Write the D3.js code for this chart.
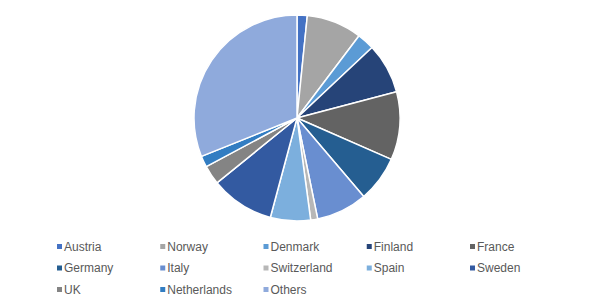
<!DOCTYPE html>
<html>
<head>
<meta charset="utf-8">
<script src="https://cdn.jsdelivr.net/npm/d3@7"></script>
<style>
  html, body { margin: 0; padding: 0; background: #fff; }
  svg { display: block; font-family: "Liberation Sans", Arial, sans-serif; }
</style>
</head>
<body>
<svg id="chart" width="594" height="307"></svg>
<script>
// Share by country (%), clockwise from 12 o'clock
const countries = ['Austria', 'Norway', 'Denmark', 'Finland', 'France', 'Germany', 'Italy',
  'Switzerland', 'Spain', 'Sweden', 'UK', 'Netherlands', 'Others'];
const shares = [1.6, 8.7, 2.7, 7.9, 10.7, 7.2, 8.0, 1.1, 6.3, 10.0, 3.0, 1.75, 31.1];
const colors = ['#4472C4', '#A5A5A5', '#5B9BD5', '#264478', '#636363', '#255E91', '#698ED0',
  '#B7B7B7', '#7CAFDD', '#335AA1', '#848484', '#327DC2', '#8FAADC'];

const data = countries.map((name, i) => ({ name, value: shares[i], color: colors[i] }));

const svg = d3.select('#chart');
const cx = 297, cy = 118, radius = 103;

const pie = d3.pie().value(d => d.value).sort(null);
const arc = d3.arc().innerRadius(0).outerRadius(radius);

svg.append('g')
  .attr('transform', `translate(${cx},${cy})`)
  .selectAll('path')
  .data(pie(data))
  .enter().append('path')
  .attr('d', arc)
  .attr('fill', d => d.data.color)
  .attr('stroke', '#fff')
  .attr('stroke-width', 1.5)
  .attr('stroke-linejoin', 'round');

// legend: 5 columns
const colX = d3.scalePoint().domain(d3.range(5)).range([57, 470]);
const rowY = d3.scalePoint().domain(d3.range(3)).range([246.5, 289.5]);

const items = svg.append('g')
  .selectAll('g')
  .data(data)
  .enter().append('g')
  .attr('transform', (d, i) => `translate(${colX(i % 5)},${rowY(Math.floor(i / 5))})`);

items.append('rect')
  .attr('x', 0)
  .attr('y', -2.5)
  .attr('width', 5)
  .attr('height', 5)
  .attr('fill', d => d.color);

items.append('text')
  .attr('x', 7)
  .attr('y', 0)
  .attr('dy', '0.35em')
  .attr('font-size', 12)
  .attr('fill', '#595959')
  .text(d => d.name);
</script>
</body>
</html>
